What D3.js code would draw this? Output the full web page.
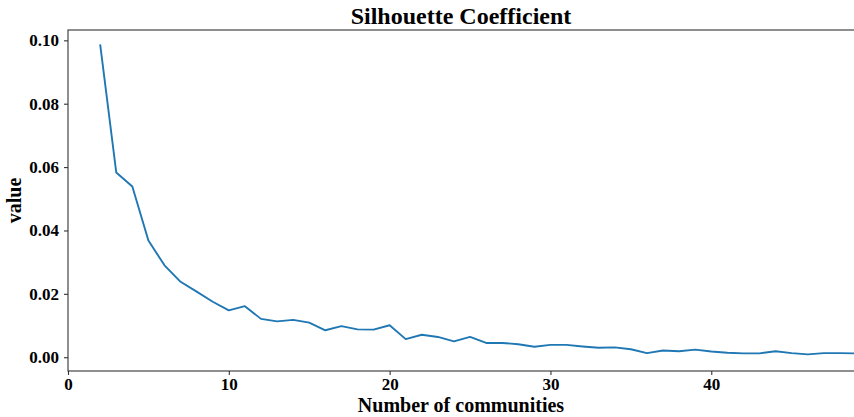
<!DOCTYPE html>
<html>
<head>
<meta charset="utf-8">
<script src="https://cdn.jsdelivr.net/npm/d3@7"></script>
<style>
  html, body { margin: 0; padding: 0; background: #fff; overflow: hidden; }
  svg { display: block; }
  text { font-family: "Liberation Serif", "Times New Roman", serif; font-weight: bold; fill: #000; }
</style>
</head>
<body>
<svg id="chart" width="854" height="417"></svg>
<script>
// Number of communities (k) and the silhouette coefficient for each
const communities = [2, 3, 4, 5, 6, 7, 8, 9, 10, 11, 12, 13, 14, 15, 16, 17, 18, 19, 20, 21,
  22, 23, 24, 25, 26, 27, 28, 29, 30, 31, 32, 33, 34, 35, 36, 37, 38, 39, 40, 41,
  42, 43, 44, 45, 46, 47, 48, 49];
const silhouette = [0.0987, 0.0583, 0.0539, 0.0368, 0.0290, 0.0238, 0.0207, 0.0175, 0.0148, 0.0161,
  0.0121, 0.0113, 0.0118, 0.0109, 0.0085, 0.0098, 0.0088, 0.0087, 0.0101, 0.0057,
  0.0071, 0.0064, 0.0050, 0.0064, 0.0045, 0.0045, 0.0041, 0.0033, 0.0039, 0.0039,
  0.0034, 0.0030, 0.0031, 0.0025, 0.0013, 0.0021, 0.0019, 0.0024, 0.0018, 0.0014,
  0.0012, 0.0012, 0.0019, 0.0013, 0.0009, 0.0013, 0.0013, 0.0012];
const xTicks = [0, 10, 20, 30, 40];
const yTicks = [0.00, 0.02, 0.04, 0.06, 0.08, 0.10];

const svg = d3.select("#chart");
const plot = { left: 68, right: 856, top: 30, bottom: 371 };

const x = d3.scaleLinear().domain([0, 49]).range([plot.left, plot.right]);
const y = d3.scaleLinear().domain([-0.00435, 0.10326]).range([plot.bottom, plot.top]);

const axisColor = "#333";

// Frame (top, left, bottom spines; right spine lies at the clip edge)
svg.append("rect")
  .attr("x", plot.left).attr("y", plot.top)
  .attr("width", plot.right - plot.left).attr("height", plot.bottom - plot.top)
  .attr("fill", "none").attr("stroke", axisColor).attr("stroke-width", 1.1);

// Axes
const xAxis = svg.append("g")
  .attr("transform", `translate(0,${plot.bottom})`)
  .call(d3.axisBottom(x).tickValues(xTicks).tickFormat(d3.format("d")).tickSize(4).tickPadding(3));
const yAxis = svg.append("g")
  .attr("transform", `translate(${plot.left},0)`)
  .call(d3.axisLeft(y).tickValues(yTicks).tickFormat(d3.format(".2f")).tickSize(4).tickPadding(5));

[xAxis, yAxis].forEach(g => {
  g.select(".domain").remove();
  g.selectAll(".tick line").attr("stroke", axisColor).attr("stroke-width", 1.1);
  g.selectAll(".tick text").style("font-size", "17px").attr("fill", "#000");
});

// Series line
const line = d3.line()
  .x((d, i) => x(communities[i]))
  .y(d => y(d));

svg.append("path")
  .datum(silhouette)
  .attr("fill", "none")
  .attr("stroke", "#1f77b4")
  .attr("stroke-width", 1.9)
  .attr("stroke-linejoin", "round")
  .attr("d", line);

// Title and axis labels
svg.append("text")
  .attr("x", (plot.left + 854) / 2).attr("y", 24)
  .attr("text-anchor", "middle")
  .style("font-size", "24px")
  .text("Silhouette Coefficient");

svg.append("text")
  .attr("x", (plot.left + 854) / 2).attr("y", 412)
  .attr("text-anchor", "middle")
  .style("font-size", "20px")
  .text("Number of communities");

svg.append("text")
  .attr("transform", `translate(21,${(plot.top + plot.bottom) / 2}) rotate(-90)`)
  .attr("text-anchor", "middle")
  .style("font-size", "20px")
  .text("value");
</script>
</body>
</html>
